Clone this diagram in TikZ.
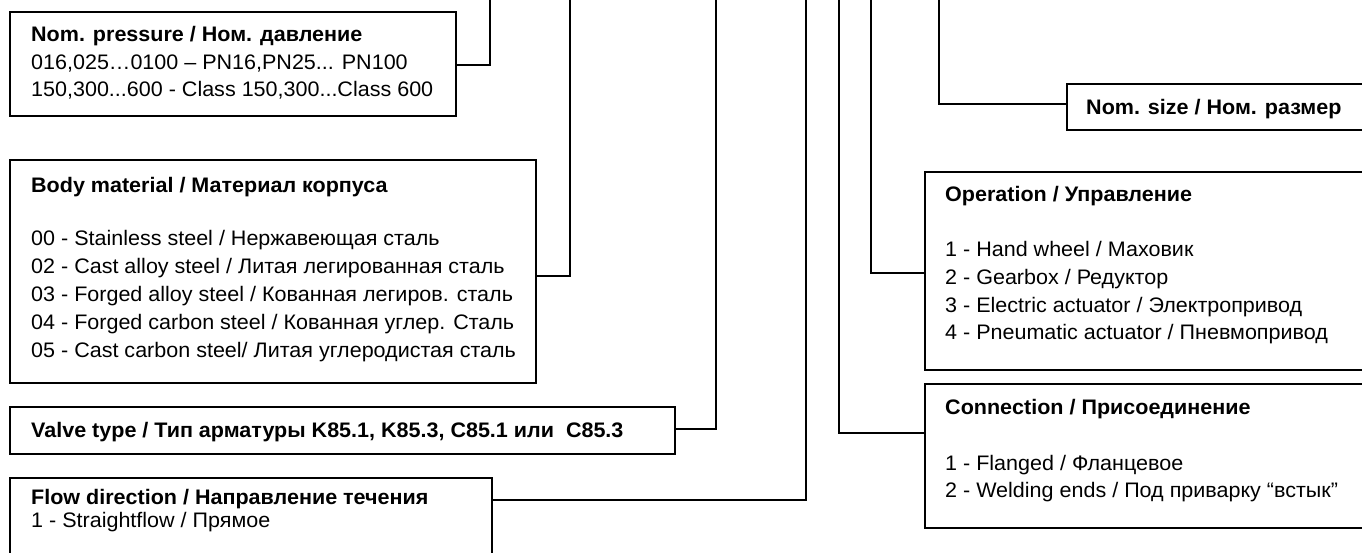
\documentclass[tikz,border=0pt]{standalone}
\usepackage{fontspec}
\setmainfont{Liberation Sans}[FakeStretch=1.025]
\newcommand\diagfs{\fontsize{21}{24}\selectfont}
\begin{document}
\begin{tikzpicture}[x=1pt,y=-1pt,
  box/.style={draw, line width=1.8pt, inner sep=0pt, anchor=north west},
  wire/.style={line width=2pt},
  lbl/.style={anchor=base west, inner sep=0pt, font=\diagfs},
  ttl/.style={lbl, font=\diagfs\bfseries}]
\useasboundingbox (0,0) rectangle (1362,552);
% boxes
\node[box, minimum width=446pt, minimum height=104pt] (pn) at (9,11) {};
\node[box, minimum width=526pt, minimum height=223pt] (bm) at (9,159) {};
\node[box, minimum width=665pt, minimum height=47pt] (vt) at (9,406) {};
\node[box, minimum width=482pt, minimum height=100pt] (fd) at (9,477) {};
\node[box, minimum width=320pt, minimum height=46pt] (ns) at (1066,83) {};
\node[box, minimum width=460pt, minimum height=198pt] (op) at (924,171) {};
\node[box, minimum width=460pt, minimum height=144pt] (cn) at (924,383) {};
% texts
\node[ttl] (pn1) at (31,41) {Nom. pressure / Ном. давление};
\node[lbl] (pn2) at (31,69) {016,025…0100 – PN16,PN25... PN100};
\node[lbl] (pn3) at (31,96) {150,300...600 - Class 150,300...Class 600};
\node[ttl] (bm1) at (31,192) {Body material / Материал корпуса};
\node[lbl] (bm2) at (31,245) {00 - Stainless steel / Нержавеющая сталь};
\node[lbl] (bm3) at (31,273) {02 - Cast alloy steel / Литая легированная сталь};
\node[lbl] (bm4) at (31,301) {03 - Forged alloy steel / Кованная легиров. сталь};
\node[lbl] (bm5) at (31,329) {04 - Forged carbon steel / Кованная углер. Сталь};
\node[lbl] (bm6) at (31,357) {05 - Cast carbon steel/ Литая углеродистая сталь};
\node[ttl] (vt1) at (31,437) {Valve type / Тип арматуры K85.1, K85.3, C85.1 или \ C85.3};
\node[ttl] (fd1) at (31,504) {Flow direction / Направление течения};
\node[lbl] (fd2) at (31,527) {1 - Straightflow / Прямое};
\node[ttl] (ns1) at (1086,114) {Nom. size / Ном. размер};
\node[ttl] (op1) at (945,201) {Operation / Управление};
\node[lbl] (op2) at (945,256) {1 - Hand wheel / Маховик};
\node[lbl] (op3) at (945,284) {2 - Gearbox / Редуктор};
\node[lbl] (op4) at (945,312) {3 - Electric actuator / Электропривод};
\node[lbl] (op5) at (945,339) {4 - Pneumatic actuator / Пневмопривод};
\node[ttl] (cn1) at (945,414) {Connection / Присоединение};
\node[lbl] (cn2) at (945,470) {1 - Flanged / Фланцевое};
\node[lbl] (cn3) at (945,497) {2 - Welding ends / Под приварку “встык”};
% top ends of connectors
\coordinate (t1) at (490,-3);
\coordinate (t2) at (570,-3);
\coordinate (t3) at (716,-3);
\coordinate (t4) at (806,-3);
\coordinate (t5) at (839,-3);
\coordinate (t6) at (871,-3);
\coordinate (t7) at (939,-3);
% connectors
\draw[wire] (pn.east |- 0,65) -| (t1);
\draw[wire] (bm.east |- 0,276) -| (t2);
\draw[wire] (vt.east |- 0,429) -| (t3);
\draw[wire] (fd.east |- 0,500) -| (t4);
\draw[wire] (cn.west |- 0,433) -| (t5);
\draw[wire] (op.west |- 0,273) -| (t6);
\draw[wire] (ns.west |- 0,104) -| (t7);
\end{tikzpicture}
\end{document}
